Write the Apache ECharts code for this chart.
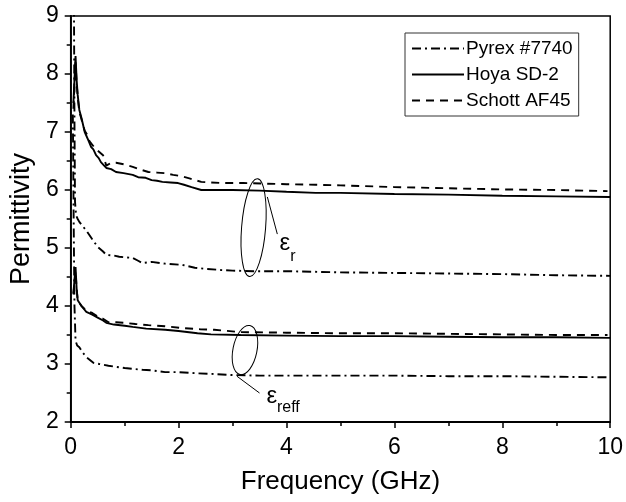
<!DOCTYPE html>
<html>
<head>
<meta charset="utf-8">
<script src="https://cdn.jsdelivr.net/npm/echarts@6/dist/echarts.min.js"></script>
<style>
html,body{margin:0;padding:0;background:#fff;}
#chart{width:626px;height:502px;}
</style>
</head>
<body>
<div id="chart"></div>
<script>
// ---- data (frequency in GHz, permittivity) ----
const seriesNames = ['Pyrex #7740', 'Hoya SD-2', 'Schott AF45'];

const pyrexErFreq = [0.05, 0.06, 0.07, 0.08, 0.1, 0.13, 0.16, 0.22, 0.29, 0.4, 0.5, 0.6, 0.66, 0.8, 0.9, 1.0, 1.15, 1.25, 1.33, 1.5, 1.75, 2.06, 2.3, 2.5, 2.79, 3.0, 3.39, 4.0, 4.5, 5.0, 6.0, 7.0, 8.0, 9.0, 10.0];
const pyrexErVal  = [9.8, 9.3, 7.2, 5.8, 5.56, 5.5, 5.45, 5.38, 5.3, 5.15, 5.02, 4.94, 4.88, 4.87, 4.85, 4.84, 4.83, 4.78, 4.74, 4.76, 4.73, 4.71, 4.66, 4.64, 4.62, 4.61, 4.6, 4.6, 4.59, 4.58, 4.57, 4.56, 4.55, 4.53, 4.52];

const hoyaErFreq = [0.05, 0.07, 0.09, 0.11, 0.13, 0.16, 0.2, 0.26, 0.29, 0.33, 0.38, 0.42, 0.47, 0.52, 0.56, 0.62, 0.66, 0.75, 0.84, 0.98, 1.15, 1.25, 1.39, 1.5, 1.6, 1.7, 1.85, 1.99, 2.1, 2.24, 2.42, 2.6, 3.0, 3.5, 4.0, 4.54, 5.0, 6.0, 7.0, 8.0, 9.0, 10.0];
const hoyaErVal  = [7.5, 7.9, 8.31, 7.9, 7.64, 7.38, 7.24, 7.0, 6.98, 6.85, 6.74, 6.7, 6.6, 6.55, 6.48, 6.42, 6.38, 6.36, 6.31, 6.29, 6.26, 6.22, 6.21, 6.17, 6.16, 6.14, 6.13, 6.12, 6.09, 6.05, 6.0, 6.0, 6.0, 5.99, 5.97, 5.95, 5.95, 5.93, 5.92, 5.9, 5.89, 5.88];

const schottErFreq = [0.05, 0.07, 0.09, 0.11, 0.13, 0.16, 0.2, 0.26, 0.3, 0.35, 0.4, 0.45, 0.5, 0.53, 0.6, 0.66, 0.75, 0.84, 1.0, 1.15, 1.3, 1.44, 1.6, 1.75, 1.9, 2.05, 2.2, 2.42, 2.79, 3.2, 4.0, 4.54, 5.0, 6.0, 7.0, 8.0, 9.0, 9.95];
const schottErVal  = [7.4, 7.8, 8.2, 7.85, 7.6, 7.35, 7.22, 7.02, 6.96, 6.84, 6.78, 6.72, 6.68, 6.66, 6.6, 6.42, 6.47, 6.47, 6.44, 6.4, 6.35, 6.31, 6.3, 6.29, 6.26, 6.24, 6.2, 6.14, 6.12, 6.12, 6.1, 6.09, 6.08, 6.05, 6.03, 6.01, 6.0, 5.98];

const pyrexEffFreq = [0.04, 0.055, 0.07, 0.09, 0.12, 0.16, 0.22, 0.29, 0.42, 0.53, 0.7, 0.84, 1.0, 1.33, 1.5, 1.75, 2.0, 2.35, 2.6, 2.97, 3.5, 4.0, 5.0, 6.0, 7.0, 8.0, 9.0, 10.0];
const pyrexEffVal  = [7.3, 5.5, 4.0, 3.4, 3.32, 3.29, 3.2, 3.12, 3.02, 3.0, 2.97, 2.95, 2.93, 2.9, 2.89, 2.86, 2.86, 2.84, 2.83, 2.81, 2.8, 2.8, 2.8, 2.8, 2.79, 2.79, 2.78, 2.77];

const hoyaEffFreq = [0.05, 0.07, 0.09, 0.11, 0.13, 0.2, 0.29, 0.4, 0.5, 0.6, 0.66, 0.8, 1.0, 1.15, 1.4, 1.75, 2.0, 2.35, 2.6, 3.15, 4.0, 5.0, 6.0, 7.0, 8.0, 9.0, 10.0];
const hoyaEffVal  = [4.22, 4.45, 4.67, 4.3, 4.1, 4.0, 3.9, 3.85, 3.8, 3.75, 3.71, 3.68, 3.66, 3.64, 3.61, 3.59, 3.57, 3.53, 3.51, 3.5, 3.49, 3.48, 3.48, 3.47, 3.46, 3.46, 3.45];

const schottEffFreq = [0.05, 0.07, 0.09, 0.11, 0.13, 0.2, 0.29, 0.4, 0.5, 0.6, 0.7, 0.84, 1.0, 1.2, 1.44, 1.75, 2.06, 2.4, 2.66, 3.15, 4.0, 5.0, 6.0, 7.0, 8.0, 9.0, 9.95];
const schottEffVal  = [4.2, 4.4, 4.6, 4.3, 4.1, 4.0, 3.92, 3.88, 3.82, 3.78, 3.72, 3.72, 3.71, 3.69, 3.67, 3.65, 3.62, 3.6, 3.59, 3.55, 3.54, 3.53, 3.53, 3.52, 3.51, 3.5, 3.5];

// annotation anchor points (data units)
const erLoopCenter = [3.39, 5.35];
const erPointer = [[3.645, 5.88], [3.83, 5.24]];
const erLabelPos = [3.97, 5.08];
const effLoopCenter = [3.23, 3.24];
const effPointer = [[3.08, 2.79], [3.5, 2.5]];
const effLabelPos = [3.73, 2.44];

// ---- build ----
function pairs(xs, ys) { return xs.map((x, i) => [x, ys[i]]); }
const FONT = 'Liberation Sans, Arial, sans-serif';
const styles = {
  'Pyrex #7740': [9, 4, 2, 4],
  'Hoya SD-2': 'solid',
  'Schott AF45': [8, 6]
};
function mk(name, xs, ys) {
  return {
    name: name, type: 'line', data: pairs(xs, ys), symbol: 'none',
    lineStyle: { color: '#000', width: 1.9, type: styles[name] },
    itemStyle: { color: '#000' }, z: 3, animation: false
  };
}

const chart = echarts.init(document.getElementById('chart'), null, { renderer: 'canvas' });
chart.setOption({
  animation: false,
  backgroundColor: '#fff',
  grid: { left: 64, right: 13, top: 16, bottom: 80, show: true, borderColor: '#000', borderWidth: 1.5, backgroundColor: 'transparent' },
  legend: {
    data: seriesNames, orient: 'vertical', left: 405, top: 33,
    backgroundColor: '#fff', borderColor: '#333', borderWidth: 1,
    padding: [6, 6, 6, 6], itemWidth: 52, itemHeight: 14, itemGap: 7,
    itemStyle: { opacity: 0 },
    textStyle: { fontFamily: FONT, fontSize: 19, color: '#000', padding: [0, 0, 0, -3] },
    selectedMode: false
  },
  xAxis: {
    type: 'value', min: 0, max: 10, interval: 2,
    name: 'Frequency (GHz)', nameLocation: 'middle', nameGap: 47,
    nameTextStyle: { fontFamily: FONT, fontSize: 26, color: '#000' },
    axisLine: { onZero: false, lineStyle: { color: '#000', width: 1.8 } },
    axisTick: { length: 6, lineStyle: { color: '#000', width: 1.5 } },
    minorTick: { show: true, splitNumber: 2, length: 4, lineStyle: { color: '#000', width: 1.5 } },
    axisLabel: { fontFamily: FONT, fontSize: 23, color: '#000', margin: 14 },
    splitLine: { show: false }
  },
  yAxis: {
    type: 'value', min: 2, max: 9, interval: 1,
    name: 'Permittivity', nameLocation: 'middle', nameGap: 34,
    nameTextStyle: { fontFamily: FONT, fontSize: 27, color: '#000' },
    axisLine: { onZero: false, lineStyle: { color: '#000', width: 1.8 } },
    axisTick: { length: 6, lineStyle: { color: '#000', width: 1.5 } },
    minorTick: { show: true, splitNumber: 2, length: 4, lineStyle: { color: '#000', width: 1.5 } },
    axisLabel: { fontFamily: FONT, fontSize: 23, color: '#000', margin: 12 },
    splitLine: { show: false }
  },
  series: [
    mk('Pyrex #7740', pyrexErFreq, pyrexErVal),
    mk('Hoya SD-2', hoyaErFreq, hoyaErVal),
    mk('Schott AF45', schottErFreq, schottErVal),
    mk('Pyrex #7740', pyrexEffFreq, pyrexEffVal),
    mk('Hoya SD-2', hoyaEffFreq, hoyaEffVal),
    mk('Schott AF45', schottEffFreq, schottEffVal)
  ]
});

function px(p) { return chart.convertToPixel({ gridIndex: 0 }, p); }
function annotations() {
  const c1 = px(erLoopCenter), c2 = px(effLoopCenter);
  const a1 = px(erPointer[0]), b1 = px(erPointer[1]);
  const a2 = px(effPointer[0]), b2 = px(effPointer[1]);
  const l1 = px(erLabelPos), l2 = px(effLabelPos);
  const ls = { stroke: '#000', lineWidth: 1, fill: null };
  return [
    { type: 'ellipse', x: c1[0], y: c1[1], rotation: -0.08, shape: { cx: 0, cy: 0, rx: 12, ry: 49 }, style: ls, z: 10 },
    { type: 'line', shape: { x1: a1[0], y1: a1[1], x2: b1[0], y2: b1[1] }, style: ls, z: 10 },
    { type: 'ellipse', x: c2[0], y: c2[1], rotation: -0.2, shape: { cx: 0, cy: 0, rx: 12, ry: 25 }, style: ls, z: 10 },
    { type: 'line', shape: { x1: a2[0], y1: a2[1], x2: b2[0], y2: b2[1] }, style: ls, z: 10 },
    { type: 'text', x: l1[0], y: l1[1], style: { text: 'ε', font: '24px ' + FONT, fill: '#000', textAlign: 'center', textVerticalAlign: 'middle' }, z: 10 },
    { type: 'text', x: l1[0] + 8, y: l1[1] + 13, style: { text: 'r', font: '16px ' + FONT, fill: '#000', textAlign: 'center', textVerticalAlign: 'middle' }, z: 10 },
    { type: 'text', x: l2[0], y: l2[1], style: { text: 'ε', font: '24px ' + FONT, fill: '#000', textAlign: 'center', textVerticalAlign: 'middle' }, z: 10 },
    { type: 'text', x: l2[0] + 5, y: l2[1] + 11, style: { text: 'reff', font: '16px ' + FONT, fill: '#000', textAlign: 'left', textVerticalAlign: 'middle' }, z: 10 }
  ];
}
chart.setOption({ graphic: annotations() });
</script>
</body>
</html>
